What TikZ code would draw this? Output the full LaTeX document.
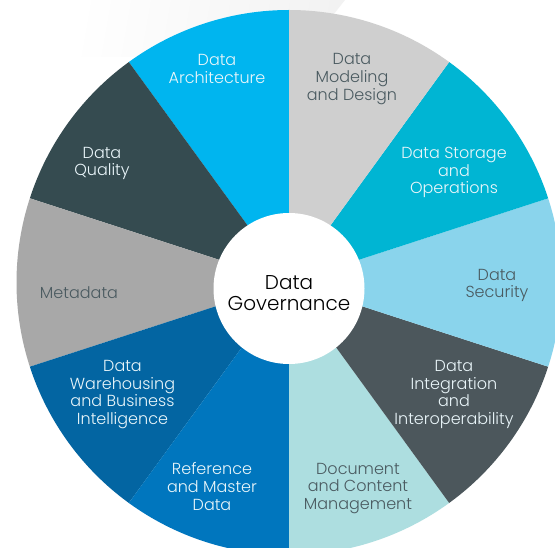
\documentclass[tikz,border=0pt]{standalone}
\usepackage{fontspec}
\setmainfont{Poppins}[UprightFont=* Light]
\newcommand{\secfill}[3]{\fill[#1] (289,264.5) -- +(#2:272.5) arc[start angle=#2,end angle=#3,radius=272.5] -- cycle;}
\definecolor{cArch}{HTML}{00B5EF}
\definecolor{cModel}{HTML}{CFCFCF}
\definecolor{cStore}{HTML}{00B5D3}
\definecolor{cSec}{HTML}{8AD4EC}
\definecolor{cInteg}{HTML}{4C575C}
\definecolor{cDoc}{HTML}{ADDEE0}
\definecolor{cRef}{HTML}{0076BE}
\definecolor{cWare}{HTML}{0365A2}
\definecolor{cMeta}{HTML}{A8A8A8}
\definecolor{cQual}{HTML}{354B50}
\definecolor{cDarkText}{HTML}{4A5A60}
\definecolor{cLightText}{HTML}{EAF6FA}
\tikzset{
  x=1pt,y=1pt,
  lab/.style={align=center,inner sep=0pt,font=\fontsize{16}{17.6}\selectfont},
  labl/.style={lab,text=cLightText},
  labd/.style={lab,text=cDarkText},
}
\begin{document}
\begin{tikzpicture}
\useasboundingbox (0,0) rectangle (555,547);
\clip (0,0) rectangle (555,547);
\fill[white] (0,0) rectangle (555,547);
\shade[left color=white,right color=black!5,shading angle=80] (60,547) -- (345,547) -- (300,490) -- (60,490) -- cycle;
\secfill{cArch}{90}{126}
\secfill{cQual}{126}{162}
\secfill{cMeta}{162}{198}
\secfill{cWare}{198}{234}
\secfill{cRef}{234}{270}
\secfill{cDoc}{270}{306}
\secfill{cInteg}{306}{342}
\secfill{cSec}{342}{378}
\secfill{cStore}{18}{54}
\secfill{cModel}{54}{90}
\node[circle,fill=white,minimum size=151,inner sep=0pt] (hub) at (289,258.5) {};
\node[lab,text=black,font=\fontsize{20}{21}\selectfont] (gov) at (289,253.5) {Data\\Governance};
\node[labl] (arch) at (217,478) {Data\\Architecture};
\node[labl] (qual) at (102,383.5) {Data\\Quality};
\node[labd] (model) at (352,468) {Data\\Modeling\\and Design};
\node[labl] (store) at (454,374.5) {Data Storage\\and\\Operations};
\node[labd] (sec) at (497,261.5) {Data\\Security};
\node[labl] (integ) at (454,152.5) {Data\\Integration\\and\\Interoperability};
\node[labd] (doc) at (358,58.5) {Document\\and Content\\Management};
\node[labl] (ref) at (212,60.5) {Reference\\and Master\\Data};
\node[labl] (ware) at (122.5,152.5) {Data\\Warehousing\\and Business\\Intelligence};
\node[labd] (meta) at (79,254) {Metadata};
\end{tikzpicture}
\end{document}
